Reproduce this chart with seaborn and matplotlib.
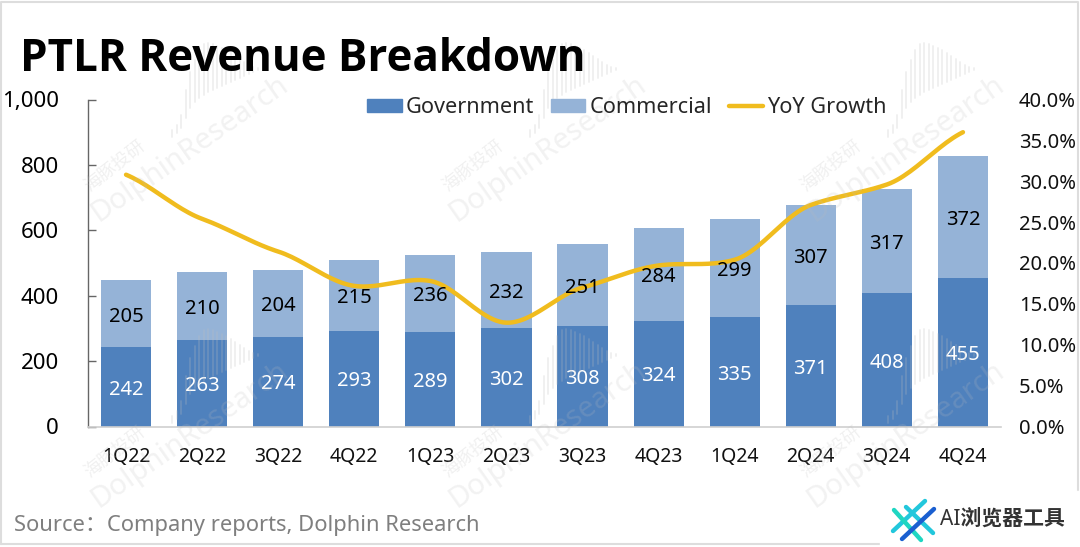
import numpy as np
import seaborn as sns
import matplotlib.pyplot as plt
from matplotlib.lines import Line2D
from matplotlib.patches import Patch, Rectangle

# Data
quarters = ['1Q22', '2Q22', '3Q22', '4Q22', '1Q23', '2Q23', '3Q23', '4Q23', '1Q24', '2Q24', '3Q24', '4Q24']
government = [242, 263, 274, 293, 289, 302, 308, 324, 335, 371, 408, 455]
commercial = [205, 210, 204, 215, 236, 232, 251, 284, 299, 307, 317, 372]
yoy_growth = [30.8, 25.4, 21.4, 17.2, 17.8, 12.7, 17.0, 19.7, 20.4, 27.1, 29.6, 36.0]
left_ticks = [0, 200, 400, 600, 800, 1000]
right_ticks = [0, 5, 10, 15, 20, 25, 30, 35, 40]

# Colours
GOV = '#4F81BD'
COM = '#95B3D7'
YOY = '#F0BC1E'
WM = '#BDBDBD'

sns.set_theme(style='white')
plt.rcParams['font.family'] = ['Noto Sans', 'Noto Sans CJK SC', 'DejaVu Sans']


def smooth(ys, k=0.72, n=24):
    # smoothed look between the points, as Excel draws it
    ys = np.array(ys, dtype=float)
    xs = np.arange(len(ys), dtype=float)
    m = k * np.gradient(ys)
    out_x, out_y = [], []
    for i in range(len(ys) - 1):
        t = np.linspace(0, 1, n)
        out_x.extend(xs[i] + t)
        out_y.extend((2 * t ** 3 - 3 * t ** 2 + 1) * ys[i] + (t ** 3 - 2 * t ** 2 + t) * m[i]
                     + (3 * t ** 2 - 2 * t ** 3) * ys[i + 1] + (t ** 3 - t ** 2) * m[i + 1])
    return out_x, out_y


fig = plt.figure(figsize=(10.8, 5.47), dpi=100)
ax = fig.add_axes([88 / 1080, 1 - 426.5 / 547, 913 / 1080, 327 / 547])

# Stacked bars
sns.barplot(x=quarters, y=government, color=GOV, saturation=1, width=0.66, linewidth=0, ax=ax)
sns.barplot(x=quarters, y=commercial, bottom=government, color=COM, saturation=1, width=0.66, linewidth=0, ax=ax)

ax.set_xlim(-0.5, 11.5)
ax.set_ylim(0, 1000)
ax.set_yticks(left_ticks)
ax.set_yticklabels([f'{v:,}' for v in left_ticks], fontsize=16, color='black')
ax.tick_params(axis='y', direction='in', length=6, width=1, color='#666666', left=True, pad=21)
ax.tick_params(axis='x', length=0, pad=15, labelsize=14, labelcolor='#111111')
for side in ['top', 'right']:
    ax.spines[side].set_visible(False)
ax.spines['left'].set_color('#666666')
ax.spines['left'].set_linewidth(1)
ax.spines['bottom'].set_color('#D0D0D0')
ax.spines['bottom'].set_linewidth(1.2)

# Growth line on the right axis
ax2 = ax.twinx()
line_x, line_y = smooth(yoy_growth)
sns.lineplot(x=line_x, y=line_y, color=YOY, lw=3.2, sort=False, ax=ax2)
ax2.set_ylim(0, 40)
ax2.set_yticks(right_ticks)
ax2.set_yticklabels([f'{v:.1f}%' for v in right_ticks], fontsize=14.5, color='#111111')
ax2.tick_params(axis='y', length=0, pad=13)
ax2.grid(False)
for side in ['top', 'right', 'left', 'bottom']:
    ax2.spines[side].set_visible(False)

# Bar labels sit above the line
lab = ax.twinx()
lab.set_ylim(0, 1000)
lab.axis('off')
gov_text = lab.bar_label(ax.containers[0], labels=[str(v) for v in government], label_type='center', color='white', fontsize=14.5)
com_text = lab.bar_label(ax.containers[1], labels=[str(v) for v in commercial], label_type='center', color='black', fontsize=14.5)
for t in list(gov_text) + list(com_text):
    t.xyann = (0, -2)

# Legend
handles = [Patch(color=GOV), Patch(color=COM), Line2D([0], [0], color=YOY, lw=3.2)]
fig.legend(handles, ['Government', 'Commercial', 'YoY Growth'], loc='center left',
           bbox_to_anchor=(367 / 1080, 1 - 107.5 / 547), ncol=3, frameon=False, fontsize=15.6,
           handlelength=1.6, handleheight=0.55, handletextpad=0.2, columnspacing=0.75, borderpad=0,
           borderaxespad=0)

# Overlay in picture pixels for the title, source, watermark and logo
ov = fig.add_axes([0, 0, 1, 1], zorder=5)
ov.set_xlim(0, 1080)
ov.set_ylim(547, 0)
ov.axis('off')
ov.patch.set_alpha(0)

ov.text(20, 71, 'PTLR Revenue Breakdown', fontsize=31.6, fontweight='bold', family=['Open Sans', 'DejaVu Sans'],
        color='black', va='baseline')
ov.text(14, 526, 'Source：Company reports, Dolphin Research', fontsize=15.8, color='#7F7F7F', va='center')

# Watermark
stroke_top = [130, 125, 115, 90, 72, 60, 50, 44, 43, 44, 46, 48, 50, 53, 56, 59, 62, 65, 67, 68]
stroke_bottom = [137, 133, 128, 118, 108, 102, 98, 95, 92, 90, 88, 86, 84, 82, 80, 78, 76, 74, 72, 70]
for ox in [0, 358, 716]:
    for oy in [0, 286]:
        ov.text(98 + ox, 222 + oy, 'DolphinResearch', fontsize=21, color=WM, alpha=0.2,
                rotation=35, rotation_mode='anchor', ha='left', va='baseline')
        ov.text(90 + ox, 192 + oy, '海豚投研', fontsize=13, color=WM, alpha=0.22,
                rotation=38, rotation_mode='anchor', ha='left', va='baseline')
        for k in range(len(stroke_top)):
            sx = 172 + ox + k * 4.5
            ov.plot([sx, sx], [stroke_top[k] + oy, stroke_bottom[k] + oy], color=WM, lw=1.3, alpha=0.25)

# Frame around the picture
ov.plot([1, 1, 1078, 1078], [544, 2, 2, 490], color='#DDDDDD', lw=1.5, clip_on=False)
ov.plot([1, 880], [544, 544], color='#DDDDDD', lw=1.5, clip_on=False)

# Logo in the corner
ov.add_patch(Rectangle((880, 492), 200, 55, color='white', zorder=3))
ov.plot([893, 925], [531, 501], color='#22C7DC', lw=3.2, zorder=4, solid_capstyle='round')
ov.plot([906, 933], [507, 533], color='#22C7DC', lw=3.2, zorder=4, solid_capstyle='round')
ov.plot([894, 921], [510, 540], color='#1FD6C2', lw=3.2, zorder=4, solid_capstyle='round')
ov.plot([902, 934], [539, 509], color='#1A5FD0', lw=3.2, zorder=4, solid_capstyle='round')
ov.text(940, 519, 'AI浏览器工具', fontsize=15, fontweight='bold', color='#333333', va='center', zorder=4)

fig.savefig('out.png', dpi=100)
